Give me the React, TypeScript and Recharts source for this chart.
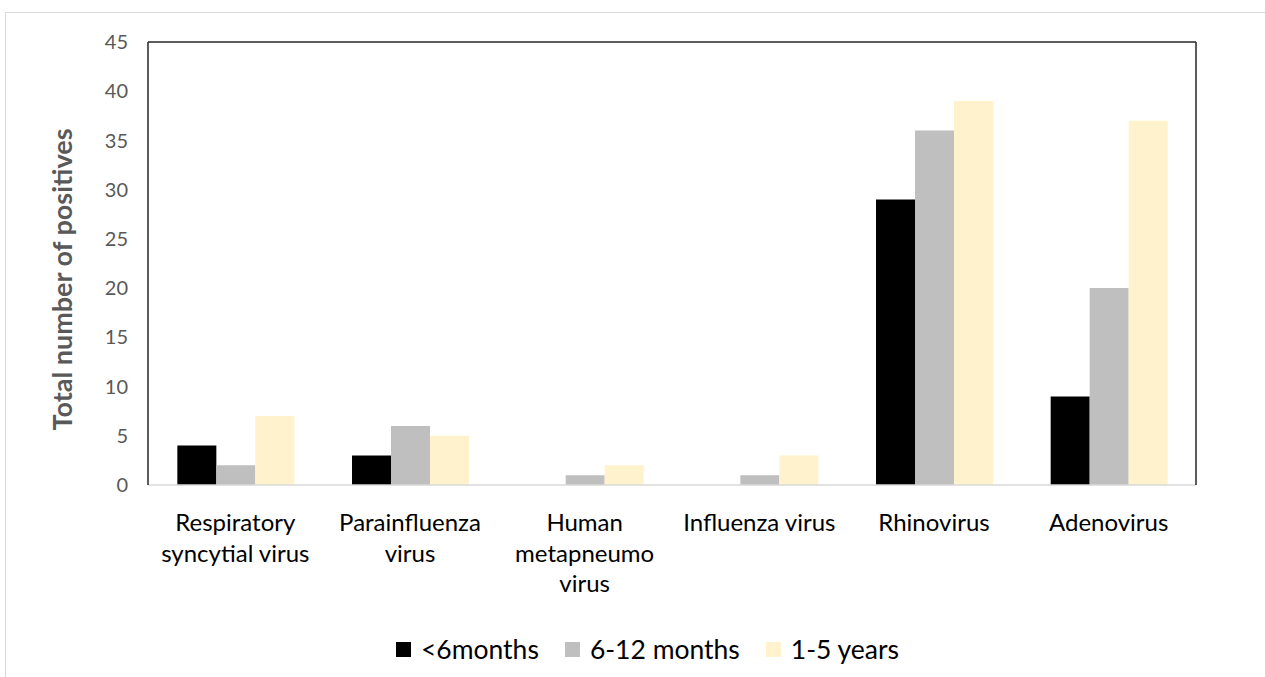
import { BarChart, Bar, XAxis, YAxis, Legend } from 'recharts';

const categories = [
  'Respiratory\nsyncytial virus',
  'Parainfluenza\nvirus',
  'Human\nmetapneumo\nvirus',
  'Influenza virus',
  'Rhinovirus',
  'Adenovirus',
];
const under6Months = [4, 3, 0, 0, 29, 9];
const months6To12 = [2, 6, 1, 1, 36, 20];
const years1To5 = [7, 5, 2, 3, 39, 37];
const yTicks = [0, 5, 10, 15, 20, 25, 30, 35, 40, 45];

const series = [
  { key: 'under6', name: '<6months', color: '#000000' },
  { key: 'm6to12', name: '6-12 months', color: '#bfbfbf' },
  { key: 'y1to5', name: '1-5 years', color: '#fff2cc' },
];

const data = categories.map((label, i) => ({
  label,
  under6: under6Months[i],
  m6to12: months6To12[i],
  y1to5: years1To5[i],
}));

const FONT = 'Lato, "Noto Sans", sans-serif';

const CategoryTick = (props: any) => {
  const { x, y, payload } = props;
  const lines = String(payload.value).split('\n');
  return (
    <text x={x} y={y} textAnchor="middle" fill="#000" fontSize={24} fontFamily={FONT}>
      {lines.map((line, i) => (
        <tspan key={i} x={x} dy={i === 0 ? 44 : 30.5}>
          {line}
        </tspan>
      ))}
    </text>
  );
};

const YTitle = (props: any) => {
  const { viewBox } = props;
  const cy = viewBox.y + viewBox.height / 2 + 16;
  const cx = 72;
  return (
    <text
      x={cx}
      y={cy}
      transform={`rotate(-90 ${cx} ${cy})`}
      textAnchor="middle"
      fill="#595959"
      fontSize={27}
      fontWeight="bold"
      fontFamily={FONT}
    >
      Total number of positives
    </text>
  );
};

const renderLegend = () => (
  <div style={{ display: 'flex', justifyContent: 'center', alignItems: 'center', fontFamily: FONT, fontSize: 26.5, color: '#000', height: 30, paddingLeft: 30 }}>
    {series.map((s, i) => (
      <div key={s.key} style={{ display: 'flex', alignItems: 'center', marginRight: i < series.length - 1 ? 26 : 0 }}>
        <span style={{ display: 'inline-block', width: 15, height: 15, background: s.color, marginRight: 10 }} />
        <span>{s.name}</span>
      </div>
    ))}
  </div>
);

export default function App() {
  return (
    <div style={{ position: 'absolute', left: 0, top: 0, width: 1265, height: 677, overflow: 'hidden', background: '#fff' }}>
      <div style={{ position: 'absolute', left: 5, top: 12, width: 1300, height: 700, border: '1.5px solid #d9d9d9' }} />
      <div style={{ position: 'absolute', left: 0, top: 0 }}>
        <BarChart
          width={1265}
          height={677}
          data={data}
          margin={{ top: 41, right: 68, left: 0, bottom: 32 }}
          barCategoryGap="16.8%"
          barGap={0}
        >
          <XAxis
            dataKey="label"
            interval={0}
            height={130}
            tick={<CategoryTick />}
            tickLine={false}
            tickSize={0}
            axisLine={{ stroke: '#d9d9d9', strokeWidth: 1.5 }}
          />
          <XAxis xAxisId="top" orientation="top" dataKey="label" height={1} tick={false} tickLine={false} axisLine={{ stroke: '#262626', strokeWidth: 1.5 }} />
          <YAxis
            domain={[0, 45]}
            ticks={yTicks}
            width={148}
            tickLine={false}
            tickSize={0}
            tickMargin={20}
            axisLine={{ stroke: '#262626', strokeWidth: 1.5 }}
            tick={{ fill: '#595959', fontSize: 20, fontFamily: FONT }}
            label={<YTitle />}
          />
          <YAxis yAxisId="right" orientation="right" domain={[0, 45]} width={1} tick={false} tickLine={false} axisLine={{ stroke: '#262626', strokeWidth: 1.5 }} />
          <Legend verticalAlign="bottom" content={renderLegend} wrapperStyle={{ position: 'absolute', top: 634, left: 0, width: 1265 }} />
          {series.map((s) => (
            <Bar key={s.key} dataKey={s.key} name={s.name} fill={s.color} isAnimationActive={false} />
          ))}
        </BarChart>
      </div>
    </div>
  );
}
